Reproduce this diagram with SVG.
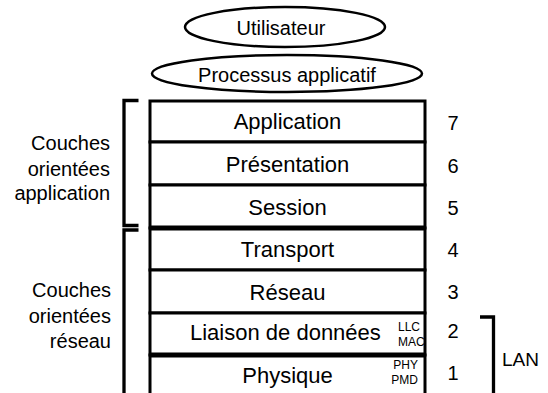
<svg xmlns="http://www.w3.org/2000/svg" width="548" height="393" viewBox="0 0 548 393">
<style>
  .t { font-family: "Liberation Sans", Arial, Helvetica, sans-serif; fill: #000; }
  .lay { font-size: 22px; text-anchor: middle; }
  .ell { font-size: 20px; text-anchor: middle; }
  .side { font-size: 20px; text-anchor: end; }
  .num { font-size: 20px; text-anchor: middle; }
  .small { font-size: 12px; }
  .box { fill: #fff; stroke: #000; stroke-width: 3; }
  .oval { fill: #fff; stroke: #000; stroke-width: 2.5; }
  .br { fill: none; stroke: #000; stroke-width: 3.3; }
  .thick { stroke: #000; stroke-width: 5; }
</style>
<rect width="548" height="393" fill="#fff"/>

<g id="utilisateur">
  <ellipse class="oval" cx="285" cy="27" rx="100" ry="20"/>
  <text class="t ell" x="281" y="35">Utilisateur</text>
</g>
<g id="processus">
  <ellipse class="oval" cx="287" cy="73.5" rx="135" ry="18.5"/>
  <text class="t ell" x="287" y="82">Processus applicatif</text>
</g>

<g id="layer7">
  <rect class="box" x="150" y="101" width="275" height="41"/>
  <text class="t lay" x="287.5" y="129">Application</text>
  <text class="t num" x="453" y="130">7</text>
</g>
<g id="layer6">
  <rect class="box" x="150" y="142" width="275" height="43"/>
  <text class="t lay" x="287.5" y="172">Présentation</text>
  <text class="t num" x="453" y="173">6</text>
</g>
<g id="layer5">
  <rect class="box" x="150" y="185" width="275" height="43"/>
  <text class="t lay" x="287.5" y="215">Session</text>
  <text class="t num" x="453" y="215">5</text>
</g>
<g id="layer4">
  <rect class="box" x="150" y="228" width="275" height="42"/>
  <text class="t lay" x="287.5" y="257">Transport</text>
  <text class="t num" x="453" y="257">4</text>
</g>
<g id="layer3">
  <rect class="box" x="150" y="270" width="275" height="43"/>
  <text class="t lay" x="287.5" y="300">Réseau</text>
  <text class="t num" x="453" y="299">3</text>
</g>
<g id="layer2">
  <rect class="box" x="150" y="313" width="275" height="42"/>
  <text class="t lay" x="190" y="340" style="text-anchor:start">Liaison de données</text>
  <text class="t small" x="398" y="331">LLC</text>
  <text class="t small" x="398" y="346">MAC</text>
  <text class="t num" x="453" y="338">2</text>
</g>
<g id="layer1">
  <rect class="box" x="150" y="355" width="275" height="50"/>
  <text class="t lay" x="287.5" y="383">Physique</text>
  <text class="t small" x="418" y="369" style="text-anchor:end">PHY</text>
  <text class="t small" x="418" y="384" style="text-anchor:end">PMD</text>
  <text class="t num" x="453" y="380">1</text>
</g>

<g id="connectors">
  <line class="thick" x1="150" y1="228" x2="425" y2="228"/>
  <line class="thick" x1="150" y1="355" x2="425" y2="355"/>
</g>

<g id="group-application">
  <path class="br" d="M138.5,100.5 H124 V225.5 H138.5"/>
  <text class="t side" x="110" y="150">Couches</text>
  <text class="t side" x="110" y="176">orientées</text>
  <text class="t side" x="110" y="200">application</text>
</g>
<g id="group-reseau">
  <path class="br" d="M138.5,230 H124 V400"/>
  <text class="t side" x="111" y="297">Couches</text>
  <text class="t side" x="111" y="323">orientées</text>
  <text class="t side" x="111" y="348">réseau</text>
</g>
<g id="group-lan">
  <path class="br" d="M480,317 H493.5 V400"/>
  <text class="t" x="502" y="366" style="font-size:19px">LAN</text>
</g>
</svg>
